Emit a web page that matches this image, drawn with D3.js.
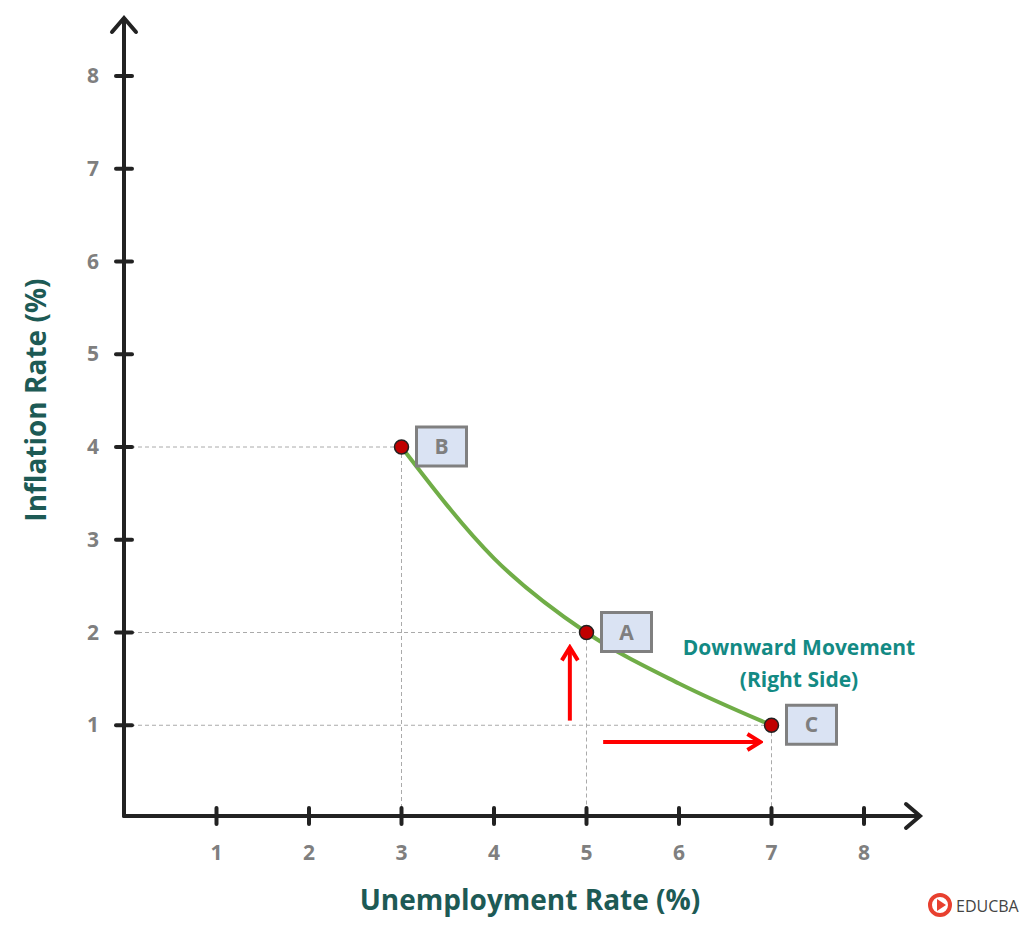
<!DOCTYPE html><html><head><meta charset="utf-8"><script src="https://cdn.jsdelivr.net/npm/d3@7"></script>
<style>body{margin:0;background:#fff}</style></head><body><svg id="c" width="1024" height="935"></svg>
<script>
const ticks=[1,2,3,4,5,6,7,8];
const curveX=[3,4,5,6,7];
const curveY=[4,2.8,2,1.45,1];
const pointLabels=["B","A","C"];
const pointX=[3,5,7];
const pointY=[4,2,1];
const svg=d3.select("#c");
const x=d3.scaleLinear().domain([0,8]).range([124,864]);
const y=d3.scaleLinear().domain([0,8]).range([818,76]);
const font="'Open Sans','Liberation Sans',sans-serif";
const defs=svg.append("defs");
defs.append("marker").attr("id","ra").attr("viewBox","0 0 20 20").attr("refX",17).attr("refY",10).attr("markerWidth",20).attr("markerHeight",20).attr("markerUnits","userSpaceOnUse").attr("orient","auto")
 .append("path").attr("d","M4,2L17,10L4,18").attr("fill","none").attr("stroke","#f00").attr("stroke-width",4);
pointX.forEach((px,i)=>{
 svg.append("line").attr("x1",x(0)).attr("x2",x(px)).attr("y1",y(pointY[i])).attr("y2",y(pointY[i])).attr("stroke","#aaa").attr("stroke-dasharray","4,3");
 svg.append("line").attr("x1",x(px)).attr("x2",x(px)).attr("y1",y(pointY[i])).attr("y2",y(0)).attr("stroke","#aaa").attr("stroke-dasharray","4,3");
});
const ax=svg.append("g").attr("stroke","#222").attr("stroke-width",4).attr("fill","none").attr("stroke-linecap","round");
ax.append("line").attr("x1",x(0)).attr("x2",918).attr("y1",816).attr("y2",816);
ax.append("path").attr("d","M906,804L920,816L906,828");
ax.append("line").attr("x1",x(0)).attr("x2",x(0)).attr("y1",816).attr("y2",20);
ax.append("path").attr("d","M112,32L124,18L136,32");
ticks.forEach(t=>{
 ax.append("line").attr("x1",x(t)).attr("x2",x(t)).attr("y1",808).attr("y2",824);
 ax.append("line").attr("x1",116).attr("x2",132).attr("y1",y(t)).attr("y2",y(t));
 svg.append("text").attr("x",x(t)).attr("y",860).attr("text-anchor","middle").attr("font-family",font).attr("font-weight","bold").attr("font-size",21).attr("fill","#7f7f7f").text(t);
 svg.append("text").attr("x",93).attr("y",y(t)+7).attr("text-anchor","middle").attr("font-family",font).attr("font-weight","bold").attr("font-size",21).attr("fill","#7f7f7f").text(t);
});
svg.append("path").datum(curveX.map((v,i)=>[v,curveY[i]])).attr("d",d3.line().x(d=>x(d[0])).y(d=>y(d[1])).curve(d3.curveMonotoneX)).attr("fill","none").attr("stroke","#70ad47").attr("stroke-width",4);
svg.append("line").attr("x1",x(4.82)).attr("x2",x(4.82)).attr("y1",y(1.05)).attr("y2",y(1.84)).attr("stroke","#f00").attr("stroke-width",4).attr("marker-end","url(#ra)");
svg.append("line").attr("x1",x(5.18)).attr("x2",x(6.88)).attr("y1",y(0.82)).attr("y2",y(0.82)).attr("stroke","#f00").attr("stroke-width",4).attr("marker-end","url(#ra)");
pointX.forEach((px,i)=>{
 svg.append("circle").attr("cx",x(px)).attr("cy",y(pointY[i])).attr("r",7).attr("fill","#c00000").attr("stroke","#222").attr("stroke-width",1.5);
 const bx=x(px)+15, by=y(pointY[i])-20;
 svg.append("rect").attr("x",bx).attr("y",by).attr("width",50).attr("height",39).attr("fill","#dae3f3").attr("stroke","#808080").attr("stroke-width",3);
 svg.append("text").attr("x",bx+25).attr("y",by+27).attr("text-anchor","middle").attr("font-family",font).attr("font-weight","bold").attr("font-size",21).attr("fill","#7f7f7f").text(pointLabels[i]);
});
svg.append("text").attr("x",799).attr("y",655).attr("text-anchor","middle").attr("font-family",font).attr("font-weight","bold").attr("font-size",21).attr("fill","#138a84").text("Downward Movement");
svg.append("text").attr("x",799).attr("y",687).attr("text-anchor","middle").attr("font-family",font).attr("font-weight","bold").attr("font-size",21).attr("fill","#138a84").text("(Right Side)");
svg.append("text").attr("x",530).attr("y",910).attr("text-anchor","middle").attr("font-family",font).attr("font-weight","bold").attr("font-size",28).attr("fill","#1d5a55").text("Unemployment Rate (%)");
svg.append("text").attr("transform","translate(46,400) rotate(-90)").attr("text-anchor","middle").attr("font-family",font).attr("font-weight","bold").attr("font-size",28).attr("fill","#1d5a55").text("Inflation Rate (%)");
svg.append("circle").attr("cx",940).attr("cy",905).attr("r",10).attr("fill","none").attr("stroke","#e8402f").attr("stroke-width",4);
svg.append("path").attr("d","M937,899L946,905L937,911Z").attr("fill","#e8402f");
svg.append("text").attr("x",956).attr("y",912).attr("font-family",font).attr("font-size",16).attr("fill","#444").text("EDUCBA");
</script></body></html>
